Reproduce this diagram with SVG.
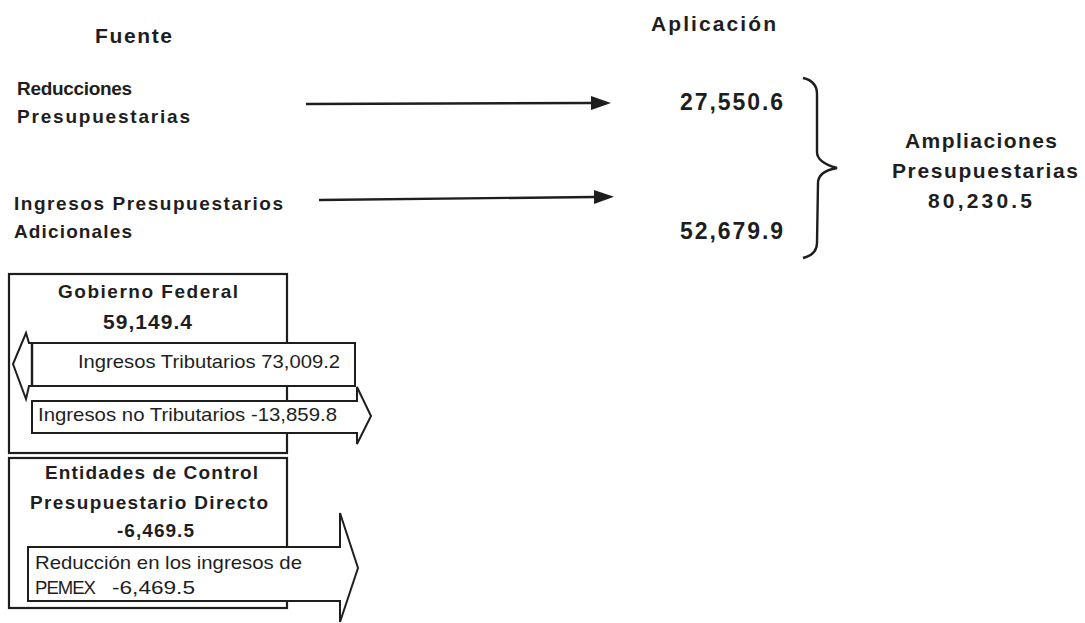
<svg xmlns="http://www.w3.org/2000/svg" width="1085" height="623" viewBox="0 0 1085 623">
<style>
text{font-family:"Liberation Sans",Arial,sans-serif;fill:#1e1e1e}
.h{font-size:19px;font-weight:bold}
.t{font-size:21px;font-weight:bold}
.n{font-size:23px;font-weight:bold}
.a{font-size:21px;font-weight:bold}
.r{font-size:19px}
.shape{fill:#fff;stroke:#1e1e1e;stroke-width:2}
.box{fill:#fff;stroke:#1e1e1e;stroke-width:2.2}
.ln{stroke:#1e1e1e;stroke-width:2.4;fill:none}
</style>
<defs>
<marker id="ah" markerWidth="20" markerHeight="14" refX="0" refY="7" orient="auto" markerUnits="userSpaceOnUse">
<path d="M0,0 L20,7 L0,14 Z" fill="#1e1e1e"/>
</marker>
</defs>
<rect width="1085" height="623" fill="#fff"/>

<g id="headers">
<text class="t" x="95" y="43" textLength="77" lengthAdjust="spacing">Fuente</text>
<text class="t" x="651" y="31" textLength="125" lengthAdjust="spacing">Aplicación</text>
</g>

<g id="fuente-reducciones">
<text class="h" x="17" y="95" textLength="115" lengthAdjust="spacing">Reducciones</text>
<text class="h" x="17" y="123" textLength="173" lengthAdjust="spacing">Presupuestarias</text>
</g>

<g id="fuente-ingresos">
<text class="h" x="14" y="210" textLength="269" lengthAdjust="spacing">Ingresos Presupuestarios</text>
<text class="h" x="14" y="238" textLength="118" lengthAdjust="spacing">Adicionales</text>
</g>

<g id="aplicacion-1">
<text class="n" x="680" y="110" textLength="103" lengthAdjust="spacing">27,550.6</text>
</g>
<g id="aplicacion-2">
<text class="n" x="680" y="239" textLength="103" lengthAdjust="spacing">52,679.9</text>
</g>

<g id="ampliaciones">
<path class="ln" d="M803,78 C812,80 817,85 817,94 L817,152 C817,160 826,165 837,168 C826,170 818,175 818,183 L817,243 C817,252 811,256 803,258" stroke-width="2"/>
<text class="a" x="981" y="148" text-anchor="middle" textLength="152" lengthAdjust="spacing">Ampliaciones</text>
<text class="a" x="985" y="178" text-anchor="middle" textLength="186" lengthAdjust="spacing">Presupuestarias</text>
<text class="a" x="980" y="208" text-anchor="middle" textLength="104" lengthAdjust="spacing">80,230.5</text>
</g>

<g id="connectors">
<line class="ln" x1="306" y1="104" x2="591" y2="103" marker-end="url(#ah)"/>
<line class="ln" x1="319" y1="200" x2="594" y2="197" marker-end="url(#ah)"/>
</g>

<g id="gobierno-federal">
<rect class="box" x="9" y="274" width="278" height="179"/>
<text class="h" x="58" y="298" textLength="180" lengthAdjust="spacing">Gobierno Federal</text>
<text class="a" x="103" y="329" textLength="89" lengthAdjust="spacing">59,149.4</text>
<g id="ingresos-tributarios">
<path class="shape" d="M355,343 L29,343 L26,333 L13,364 L26,399 L29,386 L355,386 Z"/>
<line class="ln" x1="32" y1="343" x2="32" y2="386" stroke-width="2"/>
<text class="r" x="78" y="368" textLength="262" lengthAdjust="spacingAndGlyphs">Ingresos Tributarios 73,009.2</text>
</g>
<g id="ingresos-no-tributarios">
<path class="shape" d="M32,401 L357,401 L357,387 L371,416 L357,444 L357,433 L32,433 Z"/>
<text class="r" x="38" y="421" textLength="299" lengthAdjust="spacingAndGlyphs">Ingresos no Tributarios -13,859.8</text>
</g>
</g>

<g id="entidades">
<rect class="box" x="9" y="458" width="278" height="150"/>
<text class="h" x="45" y="479" textLength="213" lengthAdjust="spacing">Entidades de Control</text>
<text class="h" x="30" y="509" textLength="238" lengthAdjust="spacing">Presupuestario Directo</text>
<text class="h" x="117" y="537" textLength="77" lengthAdjust="spacing">-6,469.5</text>
<g id="pemex">
<path class="shape" d="M28,547 L340,547 L340,513 L358,568 L340,622 L340,601 L28,601 Z"/>
<text class="r" x="35" y="569" textLength="267" lengthAdjust="spacingAndGlyphs">Reducción en los ingresos de</text>
<text class="r" x="35" y="594" textLength="60" lengthAdjust="spacingAndGlyphs" letter-spacing="-1">PEMEX</text>
<text class="r" x="112" y="594" textLength="83" lengthAdjust="spacingAndGlyphs">-6,469.5</text>
</g>
</g>
</svg>
